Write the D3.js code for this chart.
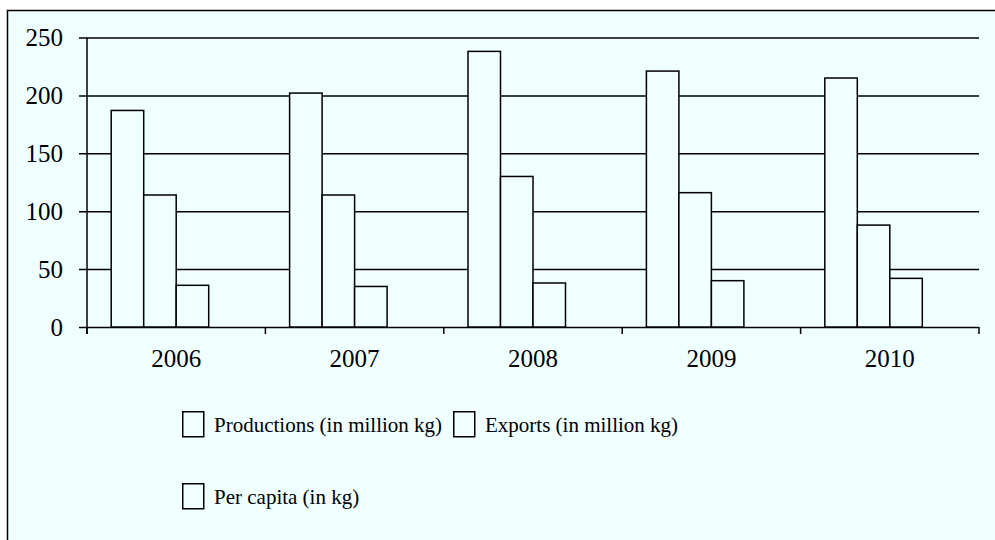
<!DOCTYPE html>
<html>
<head>
<meta charset="utf-8">
<script src="https://cdn.jsdelivr.net/npm/d3@7"></script>
<style>
    body { margin: 0; background: #fff; }
    svg { display: block; }
</style>
</head>
<body>
<svg width="995" height="540"></svg>
<script>
// chart data
const years = ["2006", "2007", "2008", "2009", "2010"];
const seriesNames = ["Productions (in million kg)", "Exports (in million kg)", "Per capita (in kg)"];
const productions = [187, 202, 238, 221, 215];
const exportsKg = [114, 114, 130, 116, 88];
const perCapita = [36, 35, 38, 40, 42];
const yTicks = [0, 50, 100, 150, 200, 250];

const BG = "#f0ffff";
const INK = "#000";
const FONT = "'Liberation Serif', serif";

const svg = d3.select("svg");

// panel with border on left and top only (cut off on the other sides)
svg.append("rect")
    .attr("x", 7).attr("y", 10)
    .attr("width", 995).attr("height", 540)
    .attr("fill", BG);
svg.append("path")
    .attr("d", "M7.5,540 V10.5 H995")
    .attr("fill", "none")
    .attr("stroke", INK)
    .attr("stroke-width", 1.5);

const plot = { left: 87, right: 979, top: 37.5, bottom: 327 };

const x = d3.scaleBand()
    .domain(years)
    .range([plot.left, plot.right]);

// Excel-ish cluster: four slots, the last one stays empty
const xInner = d3.scaleBand()
    .domain([0, 1, 2, 3])
    .range([0, x.bandwidth()])
    .paddingOuter(0.745);

const y = d3.scaleLinear()
    .domain([0, 250])
    .range([plot.bottom, plot.top]);

// gridlines + y ticks
const yAxis = d3.axisLeft(y)
    .tickValues(yTicks)
    .tickSize(-(plot.right - plot.left))
    .tickSizeOuter(0)
    .tickPadding(24)
    .tickFormat(d3.format("d"));

const gy = svg.append("g")
    .attr("transform", `translate(${plot.left},0)`)
    .call(yAxis);
gy.select(".domain").remove();
gy.selectAll(".tick line")
    .attr("x1", -8)
    .attr("stroke", INK)
    .attr("stroke-width", 1.5);
gy.selectAll(".tick text")
    .attr("font-family", FONT)
    .attr("font-size", 25)
    .attr("fill", INK)
    .attr("dy", "0.33em");

// y axis line
svg.append("line")
    .attr("x1", plot.left).attr("x2", plot.left)
    .attr("y1", plot.top).attr("y2", plot.bottom + 7)
    .attr("stroke", INK)
    .attr("stroke-width", 1.5);

// x tick marks at band boundaries
const boundaries = years.map(d => x(d)).concat([plot.right]);
svg.append("g").selectAll("line")
    .data(boundaries)
    .enter().append("line")
    .attr("x1", d => d).attr("x2", d => d)
    .attr("y1", plot.bottom).attr("y2", plot.bottom + 7)
    .attr("stroke", INK)
    .attr("stroke-width", 1.5);

// x labels
svg.append("g").selectAll("text")
    .data(years)
    .enter().append("text")
    .attr("x", d => x(d) + x.bandwidth() / 2)
    .attr("y", 367)
    .attr("text-anchor", "middle")
    .attr("font-family", FONT)
    .attr("font-size", 25)
    .attr("fill", INK)
    .text(d => d);

// bars
const series = [productions, exportsKg, perCapita];
const bars = [];
series.forEach((vals, s) => {
    vals.forEach((v, i) => bars.push({ year: years[i], s: s, value: v }));
});

svg.append("g").selectAll("rect")
    .data(bars)
    .enter().append("rect")
    .attr("x", d => x(d.year) + xInner(d.s))
    .attr("y", d => y(d.value))
    .attr("width", xInner.bandwidth())
    .attr("height", d => y(0) - y(d.value))
    .attr("fill", BG)
    .attr("stroke", INK)
    .attr("stroke-width", 1.5);

// legend
const legendItems = [
    { name: seriesNames[0], x: 182, y: 411 },
    { name: seriesNames[1], x: 453, y: 411 },
    { name: seriesNames[2], x: 182, y: 483 }
];
const lg = svg.append("g").selectAll("g")
    .data(legendItems)
    .enter().append("g")
    .attr("transform", d => `translate(${d.x},${d.y})`);
lg.append("rect")
    .attr("x", 0.75).attr("y", 0.75)
    .attr("width", 21).attr("height", 25)
    .attr("fill", BG)
    .attr("stroke", INK)
    .attr("stroke-width", 1.5);
lg.append("text")
    .attr("x", 32)
    .attr("y", 21)
    .attr("font-family", FONT)
    .attr("font-size", 21)
    .attr("fill", INK)
    .text(d => d.name);
</script>
</body>
</html>
